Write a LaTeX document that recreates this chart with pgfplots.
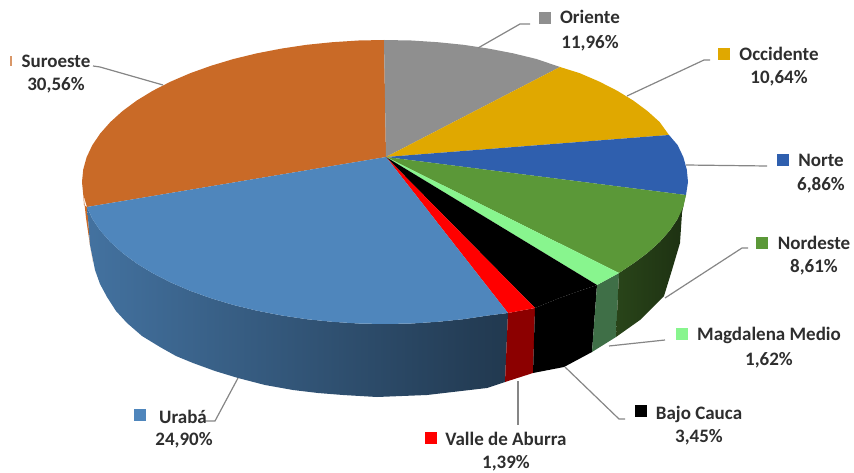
\documentclass[border=0pt]{standalone}
\usepackage{pgfplots}
\pgfplotsset{compat=1.18}
\usepackage{fontspec}
\setmainfont{Carlito}
\definecolor{cOri}{HTML}{8F8F8F}
\definecolor{cOcc}{HTML}{E0A800}
\definecolor{cNor}{HTML}{2F5FAE}
\definecolor{cNde}{HTML}{5B9838}
\definecolor{cMag}{HTML}{88F58E}
\definecolor{cBaj}{HTML}{000000}
\definecolor{cVal}{HTML}{FF0000}
\definecolor{cUra}{HTML}{4F86BC}
\definecolor{cSur}{HTML}{C96A27}
\definecolor{cLead}{HTML}{868686}
\definecolor{cTxt}{HTML}{2E2E2E}
\definecolor{cMagSide}{HTML}{3F6F47}
\begin{document}
\begin{tikzpicture}[lab/.style={font=\fontsize{19}{22}\selectfont\bfseries,text=cTxt,text height=12pt,text depth=0pt,inner sep=0pt,anchor=center}]
\useasboundingbox (0,0) rectangle (854pt,473pt);
\begin{axis}[at={(0,0)},anchor=south west,scale only axis,width=854pt,height=473pt,xmin=0,xmax=854,ymin=0,ymax=473,y dir=reverse,hide axis]
% side faces
\addplot[draw=none,fill=cSur] coordinates {(83,190)(84,205)(87,207)(88,218)(90,245)(93,262)(90,245)(86,218)} --cycle;
\addplot[draw=none,left color=cUra!85!black,middle color=cUra!62!black,right color=cUra!42!black] coordinates {
(508,313)(488.6,315.4)(463.4,319.2)(437.6,321.8)(411.4,323.5)(385,324)(358.6,323.5)(332.4,321.8)(306.6,319.2)(281.4,315.4)(257,310.7)(233.5,305)(211.2,298.3)(190.2,290.8)(170.7,282.4)(152.9,273.3)(136.8,263.5)(122.6,253)(110.4,242)(100.3,230.6)(92.3,218.8)(87,207)
(88,218)(90,245)(95,270)(100,284)(107,297)(116,311)(127,323)(142,336)(160,347)(176,356)(193,363)(215,371)(238,378)(265,385)(293,390)(318,393)(343,395)(377,397)(427,395)(487,388)(505,382)} --cycle;
\addplot[draw=none,fill=cVal!55!black] coordinates {(508,313)(535,308)(533,373)(505,382)} --cycle;
\addplot[draw=none,fill=black] coordinates {(535,308)(558.8,298.3)(579.8,290.8)(597,285)(592,352)(564,367)(533,373)} --cycle;
\addplot[draw=none,fill=cMagSide] coordinates {(597,285)(619,273)(616,337)(592,352)} --cycle;
\addplot[draw=none,left color=cNde!45!black,right color=cNde!32!black] coordinates {(619,273)(633.2,263.5)(647.4,253)(659.6,242)(669.7,230.6)(677.7,218.8)(686,195)(685,197)(682,213)(680,243)(672,270)(664,296)(640,320)(616,337)} --cycle;
% top faces
\addplot[draw=none,fill=cSur] coordinates {(386,157)(87,207)(83.2,194.4)(82,182)(83.2,169.6)(86.6,157.3)(92.3,145.2)(100.3,133.4)(110.4,122)(122.6,111)(136.8,100.5)(152.9,90.7)(170.7,81.6)(190.2,73.2)(211.2,65.7)(233.5,59)(257,53.3)(281.4,48.6)(306.6,44.8)(332.4,42.2)(358.6,40.5)(384,40)} --cycle;
\addplot[draw=none,fill=cOri] coordinates {(386,157)(384,40)(411.4,40.5)(437.6,42.2)(463.4,44.8)(488.6,48.6)(513,53.3)(536.5,59)(560,67)} --cycle;
\addplot[draw=none,fill=cOcc] coordinates {(386,157)(560,67)(579.8,73.2)(599.3,81.6)(617.1,90.7)(633.2,100.5)(647.4,111)(659.6,122)(669,135)} --cycle;
\addplot[draw=none,fill=cNor] coordinates {(386,157)(669,135)(677.7,145.2)(683.4,157.3)(686.8,169.6)(688,182)(686,195)} --cycle;
\addplot[draw=none,fill=cNde] coordinates {(386,157)(686,195)(683.4,206.7)(677.7,218.8)(669.7,230.6)(659.6,242)(647.4,253)(633.2,263.5)(619,273)} --cycle;
\addplot[draw=none,fill=cMag] coordinates {(386,157)(619,273)(597,285)} --cycle;
\addplot[draw=none,fill=black] coordinates {(386,157)(597,285)(579.8,290.8)(558.8,298.3)(535,308)} --cycle;
\addplot[draw=none,fill=cVal] coordinates {(386,157)(535,308)(508,313)} --cycle;
\addplot[draw=none,fill=cUra] coordinates {(386,157)(508,313)(488.6,315.4)(463.4,319.2)(437.6,321.8)(411.4,323.5)(385,324)(358.6,323.5)(332.4,321.8)(306.6,319.2)(281.4,315.4)(257,310.7)(233.5,305)(211.2,298.3)(190.2,290.8)(170.7,282.4)(152.9,273.3)(136.8,263.5)(122.6,253)(110.4,242)(100.3,230.6)(92.3,218.8)(87,207)} --cycle;
% leaders
\addplot[cLead,line width=1.2pt] coordinates {(163,85)(100,67)(93,66)};
\addplot[cLead,line width=1.2pt] coordinates {(478,48)(520,24)(530,24)};
\addplot[cLead,line width=1.2pt] coordinates {(627,96)(704,60)(710,60)};
\addplot[cLead,line width=1.2pt] coordinates {(686,165)(767,166)};
\addplot[cLead,line width=1.2pt] coordinates {(665,298)(742,248)(748,248)};
\addplot[cLead,line width=1.2pt] coordinates {(609,346)(665,340)};
\addplot[cLead,line width=1.2pt] coordinates {(565,367)(619,419)(625,419)};
\addplot[cLead,line width=1.2pt] coordinates {(518,381)(518,425)};
\addplot[cLead,line width=1.2pt] coordinates {(238,378)(215,421)(205,421)};
% legend keys
\addplot[only marks,mark=square*,mark size=5.5pt,color=cOri] coordinates {(545,18)};
\addplot[only marks,mark=square*,mark size=5.5pt,color=cOcc] coordinates {(724,54)};
\addplot[only marks,mark=square*,mark size=5.5pt,color=cNor] coordinates {(783,160)};
\addplot[only marks,mark=square*,mark size=5.5pt,color=cNde] coordinates {(762,243)};
\addplot[only marks,mark=square*,mark size=5.5pt,color=cMag] coordinates {(682,334)};
\addplot[only marks,mark=square*,mark size=5.5pt,color=cBaj] coordinates {(641,411)};
\addplot[only marks,mark=square*,mark size=5.5pt,color=cVal] coordinates {(431,438)};
\addplot[only marks,mark=square*,mark size=5.5pt,color=cUra] coordinates {(140,415)};
\addplot[draw=none,fill=cSur!70] coordinates {(10,56)(11.5,56)(11.5,66)(10,66)} --cycle;
% labels
\node[lab] at (axis cs:56,62) {Suroeste};
\node[lab] at (axis cs:56,85) {30,56\%};
\node[lab] at (axis cs:590,18) {Oriente};
\node[lab] at (axis cs:590,43) {11,96\%};
\node[lab] at (axis cs:779,55) {Occidente};
\node[lab] at (axis cs:779,78) {10,64\%};
\node[lab] at (axis cs:821,161) {Norte};
\node[lab] at (axis cs:821,185) {6,86\%};
\node[lab] at (axis cs:814,243) {Nordeste};
\node[lab] at (axis cs:814,266) {8,61\%};
\node[lab] at (axis cs:769,334) {Magdalena Medio};
\node[lab] at (axis cs:769,359) {1,62\%};
\node[lab] at (axis cs:699,413) {Bajo Cauca};
\node[lab] at (axis cs:699,436) {3,45\%};
\node[lab] at (axis cs:506,439) {Valle de Aburra};
\node[lab] at (axis cs:506,462) {1,39\%};
\node[lab] at (axis cs:183,417) {Urabá};
\node[lab] at (axis cs:184,439) {24,90\%};
\end{axis}
\end{tikzpicture}
\end{document}
